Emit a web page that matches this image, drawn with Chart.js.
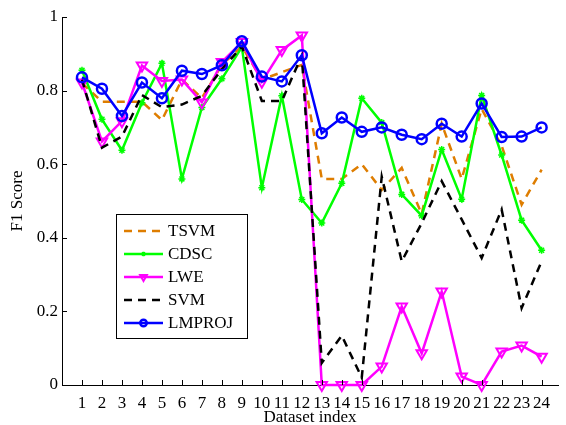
<!DOCTYPE html>
<html>
<head>
<meta charset="utf-8">
<script src="https://cdn.jsdelivr.net/npm/chart.js@4.4.0/dist/chart.umd.min.js"></script>
<style>
  html, body { margin: 0; padding: 0; background: #fff; }
</style>
</head>
<body>
<canvas id="f1-chart" width="566" height="425"></canvas>
<script>
// Índices de los conjuntos de datos (eje X) y marcas del eje Y
const datasetIndex = [1, 2, 3, 4, 5, 6, 7, 8, 9, 10, 11, 12, 13, 14, 15, 16, 17, 18, 19, 20, 21, 22, 23, 24];
const yTicks = [0, 0.2, 0.4, 0.6, 0.8, 1];

// F1 por método
const tsvm = [0.82, 0.77, 0.77, 0.77, 0.72, 0.83, 0.78, 0.87, 0.92, 0.83, 0.85, 0.87, 0.56, 0.56, 0.60, 0.53, 0.59, 0.465, 0.71, 0.56, 0.75, 0.65, 0.49, 0.585];
const cdsc = [0.855, 0.722, 0.638, 0.767, 0.874, 0.56, 0.754, 0.832, 0.918, 0.536, 0.786, 0.504, 0.44, 0.548, 0.779, 0.713, 0.518, 0.46, 0.64, 0.505, 0.787, 0.625, 0.448, 0.366];
const lwe = [0.822, 0.662, 0.717, 0.868, 0.826, 0.83, 0.768, 0.878, 0.932, 0.824, 0.91, 0.95, 0, 0, 0, 0.05, 0.213, 0.086, 0.254, 0.023, 0, 0.091, 0.107, 0.077];
const svm = [0.83, 0.645, 0.675, 0.788, 0.755, 0.762, 0.786, 0.858, 0.92, 0.772, 0.772, 0.895, 0.06, 0.134, 0.02, 0.566, 0.336, 0.44, 0.554, 0.45, 0.345, 0.477, 0.209, 0.336];
const lmproj = [0.836, 0.805, 0.731, 0.822, 0.779, 0.854, 0.845, 0.869, 0.934, 0.838, 0.825, 0.896, 0.684, 0.727, 0.688, 0.70, 0.68, 0.668, 0.71, 0.675, 0.765, 0.674, 0.675, 0.70];

const serif = { family: '"Liberation Serif", "DejaVu Serif", serif', size: 17 };

function toPoints(values) {
  return values.map((v, i) => ({ x: datasetIndex[i], y: v }));
}

// Marcas de escala hacia dentro del área del gráfico
const innerTicks = {
  id: 'innerTicks',
  afterDraw(chart) {
    const { ctx, chartArea, scales } = chart;
    ctx.save();
    ctx.strokeStyle = '#000';
    ctx.lineWidth = 1;
    ctx.beginPath();
    datasetIndex.forEach(v => {
      const x = Math.round(scales.x.getPixelForValue(v)) + 0.5;
      ctx.moveTo(x, chartArea.bottom);
      ctx.lineTo(x, chartArea.bottom - 5);
    });
    yTicks.forEach(v => {
      const y = Math.round(scales.y.getPixelForValue(v)) + 0.5;
      ctx.moveTo(chartArea.left, y);
      ctx.lineTo(chartArea.left + 5, y);
    });
    ctx.stroke();
    ctx.restore();
  }
};

// Leyenda dibujada dentro del área del gráfico
const boxLegend = {
  id: 'boxLegend',
  afterDraw(chart, args, opts) {
    const { ctx } = chart;
    ctx.save();
    ctx.fillStyle = '#fff';
    ctx.fillRect(opts.left, opts.top, opts.width, opts.height);
    ctx.strokeStyle = '#000';
    ctx.lineWidth = 1;
    ctx.strokeRect(opts.left + 0.5, opts.top + 0.5, opts.width, opts.height);
    ctx.font = `${serif.size}px ${serif.family}`;
    ctx.textBaseline = 'middle';
    chart.data.datasets.forEach((ds, row) => {
      const y = opts.top + 17 + row * 23;
      const x0 = opts.left + 8;
      const x1 = x0 + 39;
      ctx.strokeStyle = ds.borderColor;
      ctx.lineWidth = ds.borderWidth;
      ctx.setLineDash(ds.borderDash || []);
      ctx.beginPath();
      ctx.moveTo(x0, y);
      ctx.lineTo(x1, y);
      ctx.stroke();
      ctx.setLineDash([]);
      if (ds.pointRadius > 0) {
        ctx.fillStyle = 'rgba(255,255,255,0)';
        ctx.strokeStyle = ds.borderColor;
        ctx.lineWidth = ds.pointBorderWidth;
        Chart.helpers.drawPoint(ctx, {
          pointStyle: ds.pointStyle,
          rotation: ds.pointRotation || 0,
          radius: ds.pointRadius * 0.65,
          borderWidth: ds.pointBorderWidth
        }, (x0 + x1) / 2, y);
      }
      ctx.fillStyle = '#000';
      ctx.fillText(ds.label, x1 + 5, y + 1);
    });
    ctx.restore();
  }
};

const lineBase = { tension: 0, borderWidth: 2.5, clip: false, fill: false };

new Chart(document.getElementById('f1-chart'), {
  type: 'line',
  data: {
    datasets: [
      Object.assign({}, lineBase, {
        label: 'TSVM', data: toPoints(tsvm), order: 5,
        borderColor: 'rgb(222,125,0)', borderDash: [8, 6], pointRadius: 0
      }),
      Object.assign({}, lineBase, {
        label: 'CDSC', data: toPoints(cdsc), order: 4,
        borderColor: '#00ff00', pointStyle: 'star', pointRadius: 3.5,
        pointBorderWidth: 1.5, pointBorderColor: '#00ff00'
      }),
      Object.assign({}, lineBase, {
        label: 'LWE', data: toPoints(lwe), order: 3,
        borderColor: '#ff00ff', pointStyle: 'triangle', pointRotation: 180, pointRadius: 6,
        pointBorderWidth: 2, pointBorderColor: '#ff00ff', pointBackgroundColor: 'rgba(255,255,255,0)'
      }),
      Object.assign({}, lineBase, {
        label: 'SVM', data: toPoints(svm), order: 2,
        borderColor: '#000', borderDash: [8, 6], pointRadius: 0
      }),
      Object.assign({}, lineBase, {
        label: 'LMPROJ', data: toPoints(lmproj), order: 1,
        borderColor: '#0000ff', pointStyle: 'circle', pointRadius: 5,
        pointBorderWidth: 2.5, pointBorderColor: '#0000ff', pointBackgroundColor: 'rgba(255,255,255,0)'
      })
    ]
  },
  options: {
    responsive: false,
    animation: false,
    devicePixelRatio: 1,
    layout: { padding: { top: 17, right: 0, left: 0, bottom: 0 } },
    plugins: {
      legend: { display: false },
      tooltip: { enabled: false },
      boxLegend: { left: 116, top: 214, width: 131, height: 124 }
    },
    scales: {
      x: {
        type: 'linear',
        min: 0,
        max: 24.82,
        afterBuildTicks: scale => { scale.ticks = datasetIndex.map(v => ({ value: v })); },
        afterFit: scale => { scale.height = 40; },
        ticks: { autoSkip: false, maxRotation: 0, padding: 8, font: serif, color: '#000', callback: v => String(v) },
        grid: { display: false, drawTicks: false },
        border: { display: true, color: '#000', width: 1 },
        title: { display: true, text: 'Dataset index', font: serif, color: '#000', padding: { top: 0, bottom: -3 } }
      },
      y: {
        min: 0,
        max: 1,
        afterBuildTicks: scale => { scale.ticks = yTicks.map(v => ({ value: v })); },
        afterFit: scale => { scale.width = 62; },
        ticks: { padding: 4, font: serif, color: '#000', callback: v => String(v) },
        grid: { display: false, drawTicks: false },
        border: { display: true, color: '#000', width: 1 },
        title: { display: true, text: 'F1 Score', font: serif, color: '#000', padding: { top: 7, bottom: 0 } }
      }
    }
  },
  plugins: [innerTicks, boxLegend]
});
</script>
</body>
</html>
